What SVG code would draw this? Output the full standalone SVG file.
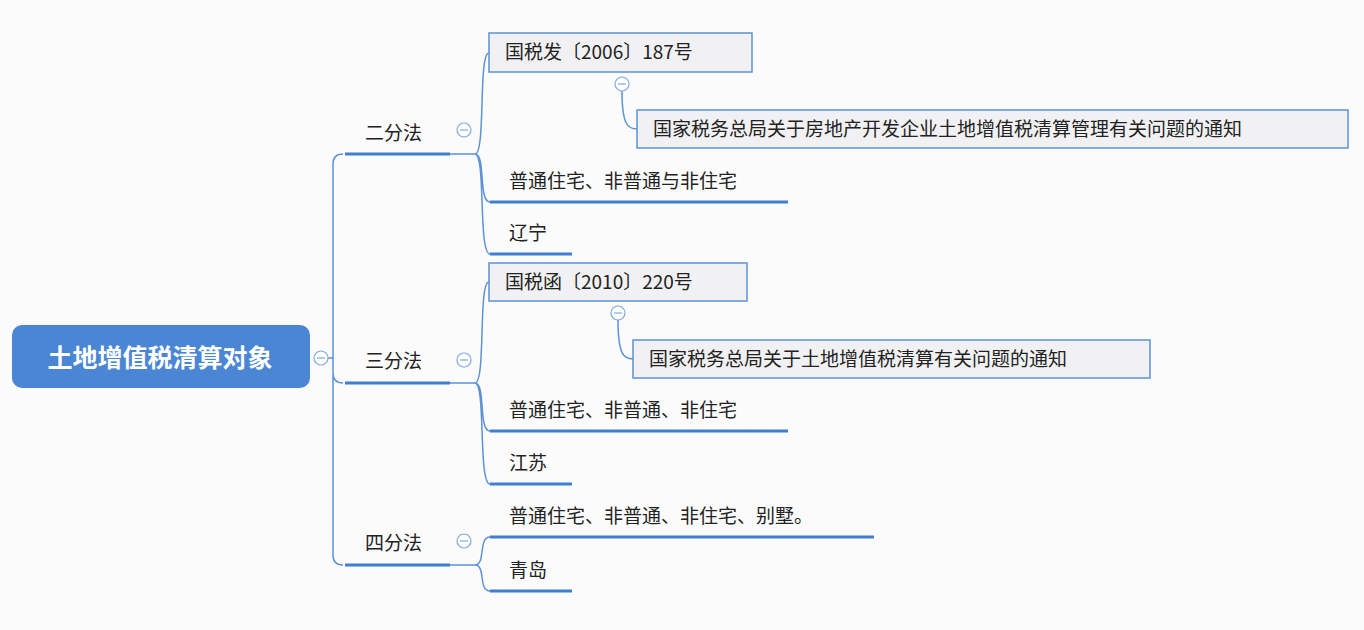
<svg xmlns="http://www.w3.org/2000/svg" width="1364" height="630" viewBox="0 0 1364 630">
<style>
text{font-family:"Noto Sans CJK SC","Liberation Sans",sans-serif;font-size:19px;fill:#222}
.c{fill:none;stroke:#5b93d6;stroke-width:1.5}
.u{stroke:#3f7fd1;stroke-width:3}
.box{fill:#f1f1f3;stroke:#5b93d6;stroke-width:1.5}
.tg{fill:#fff;stroke:#7ea8dc;stroke-width:1.2}
.tgl{stroke:#7ea8dc;stroke-width:1.2}
</style>
<rect width="1364" height="630" fill="#fbfbfc"/>
<g id="connectors">
<path class="c" d="M328 358H333M333 358V164Q333 154 343 154M333 358V373Q333 383 343 383M333 358V555Q333 565 343 565"/>
<path class="c" d="M450 154H475M475 154C486 154 478 53 489 53M475 154C486 154 478 202 490 202M475 154C486 154 478 254 490 254"/>
<path class="c" d="M450 383H475M475 383C486 383 478 282 489 282M475 383C486 383 478 431 490 431M475 383C486 383 478 484 490 484"/>
<path class="c" d="M450 565H475M475 565C486 565 478 537 490 537M475 565C486 565 478 591 490 591"/>
<path class="c" d="M622 91C622 125 628 129 637 129"/>
<path class="c" d="M618 320C618 355 624 359 633 359"/>
</g>
<g id="root"><rect x="12" y="325" width="298" height="63" rx="10" fill="#4a86d4"/><text x="160" y="367" text-anchor="middle" style="fill:#fff;font-size:25px;font-weight:bold">土地增值税清算对象</text>
<circle class="tg" cx="321" cy="358" r="7"/><line class="tgl" x1="317" y1="358" x2="325" y2="358"/></g>
<g id="b1"><line class="u" x1="345" y1="154" x2="450" y2="154"/><text x="365" y="140">二分法</text><circle class="tg" cx="464" cy="130" r="7"/><line class="tgl" x1="460" y1="130" x2="468" y2="130"/></g>
<g id="b2"><line class="u" x1="345" y1="383" x2="450" y2="383"/><text x="365" y="368">三分法</text><circle class="tg" cx="464" cy="360" r="7"/><line class="tgl" x1="460" y1="360" x2="468" y2="360"/></g>
<g id="b3"><line class="u" x1="345" y1="565" x2="450" y2="565"/><text x="365" y="550">四分法</text><circle class="tg" cx="464" cy="541" r="7"/><line class="tgl" x1="460" y1="541" x2="468" y2="541"/></g>
<g id="n1"><rect class="box" x="489" y="33" width="263" height="39"/><text x="505" y="59">国税发〔2006〕187号</text><circle class="tg" cx="622" cy="84" r="7"/><line class="tgl" x1="618" y1="84" x2="626" y2="84"/></g>
<g id="n1a"><rect class="box" x="637" y="110" width="711" height="38"/><text x="653" y="136">国家税务总局关于房地产开发企业土地增值税清算管理有关问题的通知</text></g>
<g id="n2"><line class="u" x1="490" y1="202" x2="788" y2="202"/><text x="509" y="188">普通住宅、非普通与非住宅</text></g>
<g id="n3"><line class="u" x1="490" y1="254" x2="572" y2="254"/><text x="509" y="240">辽宁</text></g>
<g id="n4"><rect class="box" x="489" y="263" width="258" height="38"/><text x="505" y="289">国税函〔2010〕220号</text><circle class="tg" cx="618" cy="313" r="7"/><line class="tgl" x1="614" y1="313" x2="622" y2="313"/></g>
<g id="n4a"><rect class="box" x="633" y="340" width="517" height="38"/><text x="649" y="366">国家税务总局关于土地增值税清算有关问题的通知</text></g>
<g id="n5"><line class="u" x1="490" y1="431" x2="788" y2="431"/><text x="509" y="417">普通住宅、非普通、非住宅</text></g>
<g id="n6"><line class="u" x1="490" y1="484" x2="572" y2="484"/><text x="509" y="470">江苏</text></g>
<g id="n7"><line class="u" x1="490" y1="537" x2="874" y2="537"/><text x="509" y="523">普通住宅、非普通、非住宅、别墅。</text></g>
<g id="n8"><line class="u" x1="490" y1="591" x2="572" y2="591"/><text x="509" y="577">青岛</text></g>
</svg>
